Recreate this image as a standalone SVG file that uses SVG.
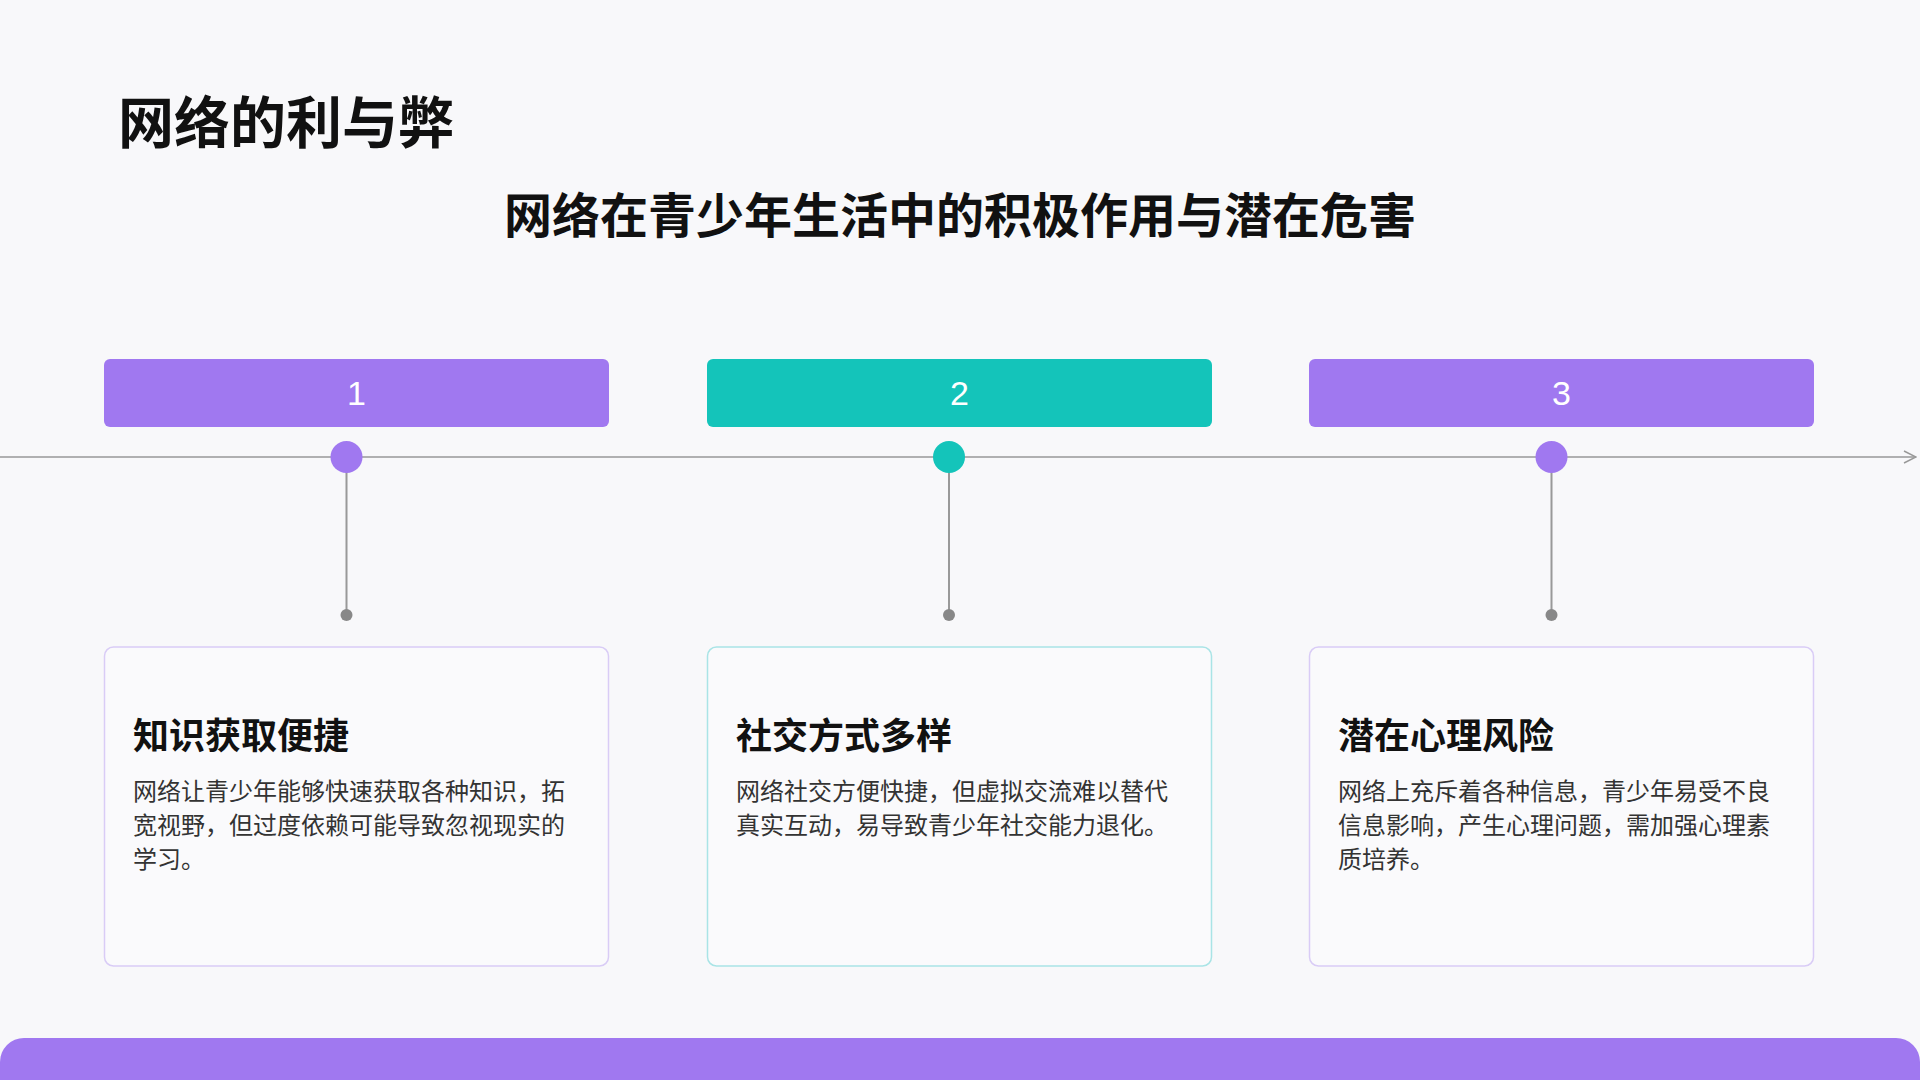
<svg xmlns="http://www.w3.org/2000/svg" width="1920" height="1080" viewBox="0 0 1920 1080">
<defs>
<style>
.t{font-family:"Liberation Sans","Noto Sans CJK SC",sans-serif}
.hd{font-size:34px;fill:#fff;text-anchor:middle}
.ct{font-size:36px;font-weight:bold;fill:#111}
.bd{font-size:24px;fill:#333}
.card{fill:#FAFAFC;stroke-width:1.5}
.vl{stroke:#999;stroke-width:2}
</style>
<marker id="ar" markerWidth="14" markerHeight="14" refX="13" refY="7" orient="auto" markerUnits="userSpaceOnUse"><path d="M1,1 L13,7 L1,13" fill="none" stroke="#999" stroke-width="1.5"/></marker>
</defs>
<rect width="1920" height="1080" fill="#F8F8FA"/>
<text class="t" x="118" y="143" font-size="56" font-weight="bold" fill="#111">网络的利与弊</text>
<text class="t" x="960" y="233" font-size="48" font-weight="bold" fill="#111" text-anchor="middle">网络在青少年生活中的积极作用与潜在危害</text>
<g id="connectors">
<line x1="0" y1="457" x2="1916" y2="457" stroke="#999" stroke-width="1.5" marker-end="url(#ar)"/>
<line class="vl" x1="346.5" y1="457" x2="346.5" y2="615"/>
<line class="vl" x1="949" y1="457" x2="949" y2="615"/>
<line class="vl" x1="1551.5" y1="457" x2="1551.5" y2="615"/>
<circle cx="346.5" cy="615" r="6" fill="#888"/>
<circle cx="949" cy="615" r="6" fill="#888"/>
<circle cx="1551.5" cy="615" r="6" fill="#888"/>
</g>
<g id="node1">
<rect x="104" y="359" width="505" height="68" rx="6" fill="#A078F0"/>
<text class="t hd" x="356.5" y="405">1</text>
<circle cx="346.5" cy="457" r="16" fill="#A078F0"/>
<rect class="card" x="104.5" y="647" width="504" height="319" rx="9" stroke="#D9CCF6"/>
<text class="t ct" x="133" y="749">知识获取便捷</text>
<text class="t bd" x="133" y="800">网络让青少年能够快速获取各种知识，拓</text>
<text class="t bd" x="133" y="834">宽视野，但过度依赖可能导致忽视现实的</text>
<text class="t bd" x="133" y="868">学习。</text>
</g>
<g id="node2">
<rect x="707" y="359" width="505" height="68" rx="6" fill="#14C4BA"/>
<text class="t hd" x="959.5" y="405">2</text>
<circle cx="949" cy="457" r="16" fill="#14C4BA"/>
<rect class="card" x="707.5" y="647" width="504" height="319" rx="9" stroke="#A9E4E6"/>
<text class="t ct" x="736" y="749">社交方式多样</text>
<text class="t bd" x="736" y="800">网络社交方便快捷，但虚拟交流难以替代</text>
<text class="t bd" x="736" y="834">真实互动，易导致青少年社交能力退化。</text>
</g>
<g id="node3">
<rect x="1309" y="359" width="505" height="68" rx="6" fill="#A078F0"/>
<text class="t hd" x="1561.5" y="405">3</text>
<circle cx="1551.5" cy="457" r="16" fill="#A078F0"/>
<rect class="card" x="1309.5" y="647" width="504" height="319" rx="9" stroke="#D9CCF6"/>
<text class="t ct" x="1338" y="749">潜在心理风险</text>
<text class="t bd" x="1338" y="800">网络上充斥着各种信息，青少年易受不良</text>
<text class="t bd" x="1338" y="834">信息影响，产生心理问题，需加强心理素</text>
<text class="t bd" x="1338" y="868">质培养。</text>
</g>
<path d="M0,1062 A24,24 0 0 1 24,1038 L1896,1038 A24,24 0 0 1 1920,1062 L1920,1080 L0,1080 Z" fill="#A078F0"/>
</svg>
